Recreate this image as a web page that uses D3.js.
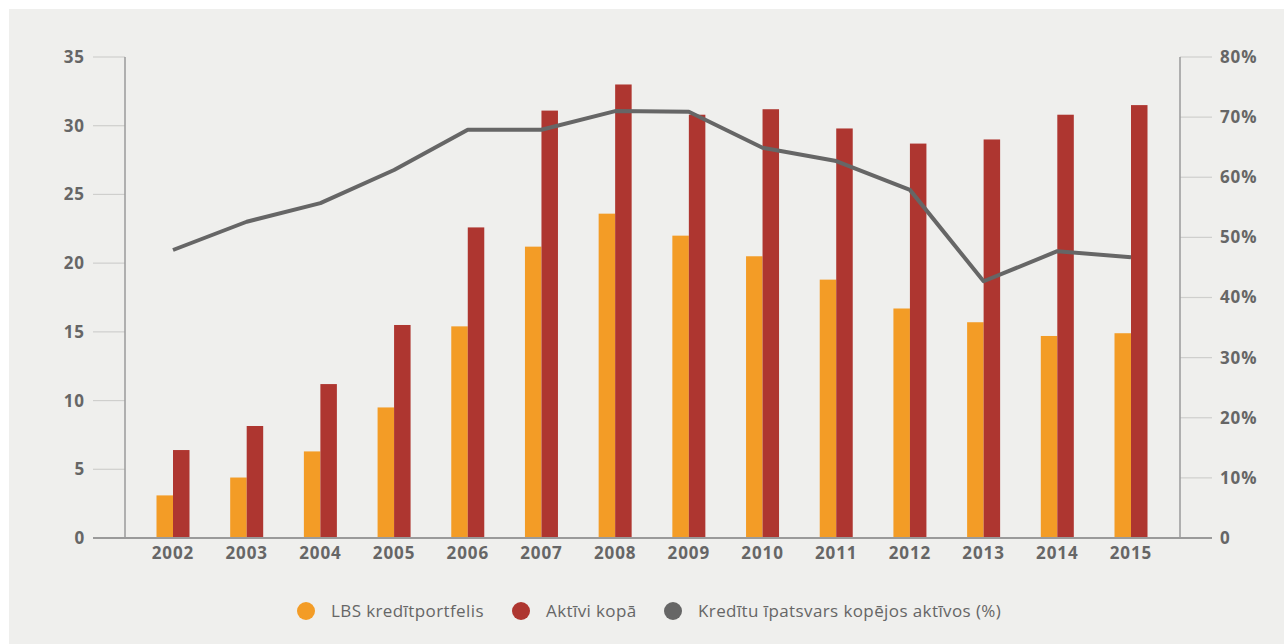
<!DOCTYPE html>
<html>
<head>
<meta charset="utf-8">
<script src="https://cdn.jsdelivr.net/npm/d3@7"></script>
<style>
  html, body { margin: 0; padding: 0; background: #ffffff; }
  svg { display: block; }
  .tick-label { font-family: "Open Sans", sans-serif; font-weight: 700; font-size: 17px; letter-spacing: 0.9px; fill: #666; }
  .legend-label { font-family: "Open Sans", sans-serif; font-weight: 400; font-size: 17px; letter-spacing: 0.4px; fill: #666; }
</style>
</head>
<body>
<svg id="chart" width="1284" height="644"></svg>
<script>
// Gada dati: LBS kredītportfelis un aktīvi (mljrd. EUR), kredītu īpatsvars (%)
const years = ["2002","2003","2004","2005","2006","2007","2008","2009","2010","2011","2012","2013","2014","2015"];
const loans = [3.1, 4.4, 6.3, 9.5, 15.4, 21.2, 23.6, 22.0, 20.5, 18.8, 16.7, 15.7, 14.7, 14.9];
const assets = [6.4, 8.15, 11.2, 15.5, 22.6, 31.1, 33.0, 30.8, 31.2, 29.8, 28.7, 29.0, 30.8, 31.5];
const share = [47.9, 52.6, 55.7, 61.2, 67.9, 67.9, 71.0, 70.9, 64.9, 62.7, 57.9, 42.7, 47.7, 46.7];
const leftTicks = [0, 5, 10, 15, 20, 25, 30, 35];
const rightTicks = [0, 10, 20, 30, 40, 50, 60, 70, 80];
const legendItems = ["LBS kredītportfelis", "Aktīvi kopā", "Kredītu īpatsvars kopējos aktīvos (%)"];
const colors = ["#f39c26", "#ae3630", "#666666"];

const svg = d3.select("#chart");

// panel background
svg.append("rect").attr("x", 9).attr("y", 9).attr("width", 1275).attr("height", 635).attr("fill", "#efefed");

const axisLeftX = 125, axisRightX = 1180, plotTop = 57, plotBottom = 538;

const x = d3.scalePoint().domain(years).range([173, 1131]);
const yL = d3.scaleLinear().domain([0, 35]).range([plotBottom, plotTop]);
const yR = d3.scaleLinear().domain([0, 80]).range([plotBottom, plotTop]);
const barW = 16.5;

// left axis
const gL = svg.append("g");
gL.selectAll("line.tk").data(leftTicks).join("line")
  .attr("x1", 93).attr("x2", axisLeftX)
  .attr("y1", d => yL(d)).attr("y2", d => yL(d))
  .attr("stroke", "#cfcfcd").attr("stroke-width", 1.2);
gL.append("line").attr("x1", axisLeftX).attr("x2", axisLeftX).attr("y1", plotTop).attr("y2", plotBottom)
  .attr("stroke", "#9a9a9a").attr("stroke-width", 1.5);
gL.selectAll("text").data(leftTicks).join("text")
  .attr("class", "tick-label").attr("x", 85).attr("y", d => yL(d)).attr("dy", "0.35em")
  .attr("text-anchor", "end").text(d => d);

// right axis
const gR = svg.append("g");
gR.selectAll("line.tk").data(rightTicks).join("line")
  .attr("x1", axisRightX).attr("x2", 1212)
  .attr("y1", d => yR(d)).attr("y2", d => yR(d))
  .attr("stroke", "#cfcfcd").attr("stroke-width", 1.2);
gR.append("line").attr("x1", axisRightX).attr("x2", axisRightX).attr("y1", plotTop).attr("y2", plotBottom)
  .attr("stroke", "#9a9a9a").attr("stroke-width", 1.5);
gR.selectAll("text").data(rightTicks).join("text")
  .attr("class", "tick-label").attr("x", 1220).attr("y", d => yR(d)).attr("dy", "0.35em")
  .attr("text-anchor", "start").text(d => d === 0 ? "0" : d + "%");

// bars
svg.append("g").selectAll("rect").data(years).join("rect")
  .attr("x", d => x(d) - barW).attr("width", barW)
  .attr("y", (d, i) => yL(loans[i])).attr("height", (d, i) => plotBottom - yL(loans[i]))
  .attr("fill", colors[0]);
svg.append("g").selectAll("rect").data(years).join("rect")
  .attr("x", d => x(d)).attr("width", barW)
  .attr("y", (d, i) => yL(assets[i])).attr("height", (d, i) => plotBottom - yL(assets[i]))
  .attr("fill", colors[1]);

// baseline
svg.append("line").attr("x1", 93).attr("x2", 1212).attr("y1", plotBottom).attr("y2", plotBottom)
  .attr("stroke", "#9a9a9a").attr("stroke-width", 2);

// share line
const line = d3.line().x((d, i) => x(years[i])).y(d => yR(d));
svg.append("path").datum(share).attr("d", line)
  .attr("fill", "none").attr("stroke", colors[2]).attr("stroke-width", 4).attr("stroke-linejoin", "round");

// x labels
svg.append("g").selectAll("text").data(years).join("text")
  .attr("class", "tick-label").attr("x", d => x(d)).attr("y", 553).attr("dy", "0.35em")
  .attr("text-anchor", "middle").text(d => d);

// legend
const legendX = [306, 521, 673];
const lg = svg.append("g");
legendItems.forEach((t, i) => {
  lg.append("circle").attr("cx", legendX[i]).attr("cy", 611).attr("r", 9).attr("fill", colors[i]);
  lg.append("text").attr("class", "legend-label").attr("x", legendX[i] + 25).attr("y", 611).attr("dy", "0.35em").text(t);
});
</script>
</body>
</html>
